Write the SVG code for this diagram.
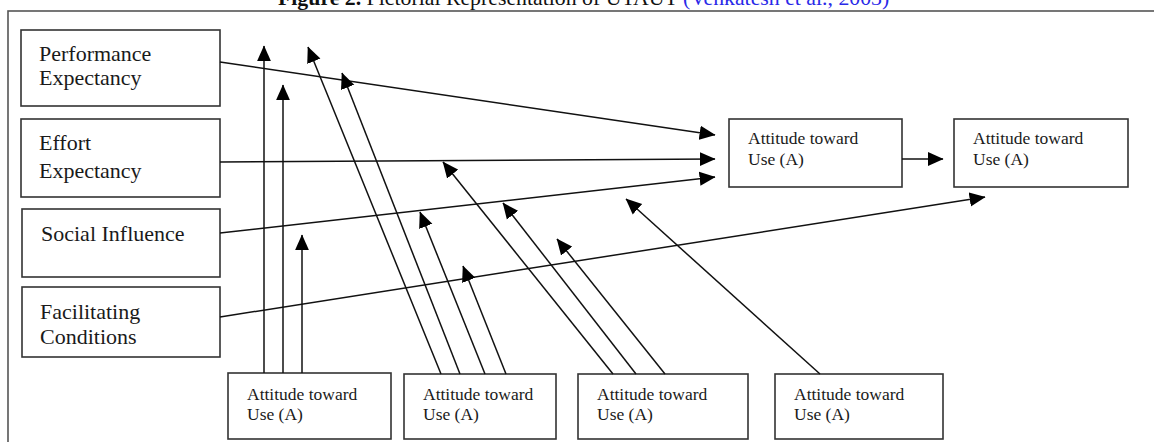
<svg xmlns="http://www.w3.org/2000/svg" width="1154" height="442" viewBox="0 0 1154 442">
<style>
.frame{fill:none;stroke:#555;stroke-width:1.6}
.box{fill:#fff;stroke:#333;stroke-width:1.6}
.big{font-family:"Liberation Serif","Times New Roman",serif;font-size:22px;fill:#1a1a1a}
.small{font-family:"Liberation Serif","Times New Roman",serif;font-size:17.5px;fill:#1a1a1a}
.title{font-family:"Liberation Serif","Times New Roman",serif;font-size:21.8px;fill:#111}
.cite{fill:#2a2ae8}
.con line{stroke:#111;stroke-width:1.5;marker-end:url(#ah)}
</style>
<defs>
<marker id="ah" markerUnits="userSpaceOnUse" markerWidth="16" markerHeight="16" viewBox="0 0 14 14" refX="13.5" refY="7" orient="auto">
<path d="M0,0.8 L14,7 L0,13.2 Z" fill="#000"/>
</marker>
</defs>
<rect width="1154" height="442" fill="#fff"/>
<text class="title" x="278" y="4.5"><tspan font-weight="bold">Figure 2.</tspan> Pictorial Representation of UTAUT <tspan class="cite">(Venkatesh  et al., 2003)</tspan></text>
<rect class="frame" x="8" y="11" width="1170" height="450"/>

<g id="pe"><rect class="box" x="21" y="30" width="199" height="76"/><text class="big" x="39" y="61">Performance</text><text class="big" x="39" y="85">Expectancy</text></g>
<g id="ee"><rect class="box" x="21" y="119" width="199" height="78"/><text class="big" x="39" y="150">Effort</text><text class="big" x="39" y="178">Expectancy</text></g>
<g id="si"><rect class="box" x="22" y="209" width="198" height="68"/><text class="big" x="41" y="241">Social  Influence</text></g>
<g id="fc"><rect class="box" x="22" y="287" width="198" height="70"/><text class="big" x="40" y="319">Facilitating</text><text class="big" x="40" y="344">Conditions</text></g>

<g id="a1"><rect class="box" x="729" y="119" width="173" height="68"/><text class="small" x="748" y="144">Attitude toward</text><text class="small" x="748" y="165">Use (A)</text></g>
<g id="a2"><rect class="box" x="954" y="119" width="174" height="68"/><text class="small" x="973" y="144">Attitude toward</text><text class="small" x="973" y="165">Use (A)</text></g>

<g id="b1"><rect class="box" x="228" y="373" width="163" height="66"/><text class="small" x="247" y="400">Attitude toward</text><text class="small" x="247" y="420">Use (A)</text></g>
<g id="b2"><rect class="box" x="404" y="374" width="152" height="65"/><text class="small" x="423" y="400">Attitude toward</text><text class="small" x="423" y="420">Use (A)</text></g>
<g id="b3"><rect class="box" x="578" y="374" width="170" height="65"/><text class="small" x="597" y="400">Attitude toward</text><text class="small" x="597" y="420">Use (A)</text></g>
<g id="b4"><rect class="box" x="775" y="374" width="168" height="65"/><text class="small" x="794" y="400">Attitude toward</text><text class="small" x="794" y="420">Use (A)</text></g>

<g id="connectors" class="con">
<line x1="220" y1="62" x2="715" y2="135"/>
<line x1="220" y1="162" x2="715" y2="159"/>
<line x1="220" y1="233" x2="715" y2="177"/>
<line x1="220" y1="317" x2="985" y2="197"/>
<line x1="902" y1="159" x2="943" y2="159"/>
<line x1="264" y1="373" x2="264" y2="46"/>
<line x1="283" y1="373" x2="283" y2="85"/>
<line x1="302" y1="373" x2="302" y2="235"/>
<line x1="441" y1="374" x2="308" y2="47"/>
<line x1="460" y1="374" x2="342" y2="73"/>
<line x1="485" y1="374" x2="420" y2="212"/>
<line x1="506" y1="374" x2="463" y2="266"/>
<line x1="613" y1="374" x2="443" y2="162"/>
<line x1="636" y1="374" x2="503" y2="203"/>
<line x1="665" y1="374" x2="557" y2="239"/>
<line x1="820" y1="374" x2="626" y2="199"/>
</g>
</svg>
